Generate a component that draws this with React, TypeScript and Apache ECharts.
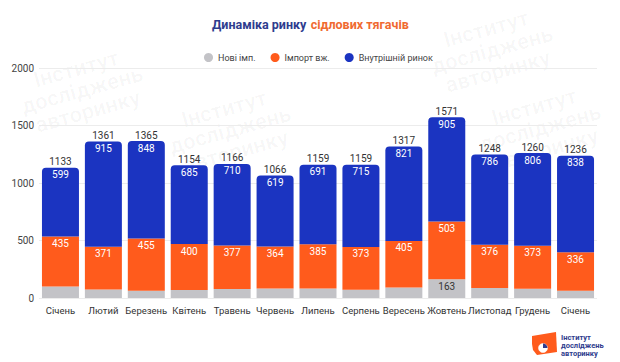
import React, { useEffect, useRef } from "react";
import * as echarts from "echarts";

const categories = ["Січень", "Лютий", "Березень", "Квітень", "Травень", "Червень", "Липень", "Серпень", "Вересень", "Жовтень", "Листопад", "Грудень", "Січень"];
const newImports = [99, 75, 62, 69, 79, 83, 83, 71, 91, 163, 86, 81, 62];
const usedImports = [435, 371, 455, 400, 377, 364, 385, 373, 405, 503, 376, 373, 336];
const domestic = [599, 915, 848, 685, 710, 619, 691, 715, 821, 905, 786, 806, 838];
const totals = [1133, 1361, 1365, 1154, 1166, 1066, 1159, 1159, 1317, 1571, 1248, 1260, 1236];
const yTicks = [0, 500, 1000, 1500, 2000];
const grayLabelShown = [false, false, false, false, false, false, false, false, false, true, false, false, false];

const GRAY = "#c3c3c7";
const ORANGE = "#ff5b1c";
const BLUE = "#1b34c1";
const FONT = "Roboto, 'Noto Sans', sans-serif";

const wmPositions = [
  [82, 90],
  [230, 130],
  [492, 50],
  [540, 128],
];

export default function App() {
  const ref = useRef<HTMLDivElement>(null);
  useEffect(() => {
    if (!ref.current) return;
    const chart = echarts.init(ref.current, null, { renderer: "svg" });
    const watermarks = wmPositions.map(([x, y]) => ({
      type: "text",
      x,
      y,
      rotation: 0.27,
      z: -10,
      silent: true,
      style: {
        text: "Інститут\nдосліджень\nавторинку",
        fill: "rgba(0,0,0,0.03)",
        font: `bold 22px ${FONT}`,
        lineHeight: 22,
        align: "center",
        verticalAlign: "middle",
      },
    }));
    chart.setOption({
      animation: false,
      textStyle: { fontFamily: FONT },
      title: {
        text: "{a|Динаміка ринку} {b|сідлових тягачів}",
        left: 207,
        top: 10,
        textStyle: {
          rich: {
            a: { fontSize: 12.5, fontWeight: "bold", color: "#2e3c8e", fontFamily: FONT },
            b: { fontSize: 12.5, fontWeight: "bold", color: "#f06a30", fontFamily: FONT },
          },
        },
      },
      legend: {
        data: ["Нові імп.", "Імпорт вж.", "Внутрішній ринок"],
        left: 199,
        top: 48,
        icon: "circle",
        itemWidth: 9,
        itemHeight: 9,
        itemGap: 15,
        textStyle: { fontSize: 9, color: "#444", fontFamily: FONT },
      },
      grid: { left: 39, right: 23, top: 68, bottom: 64, containLabel: false },
      xAxis: {
        type: "category",
        data: categories,
        axisLine: { show: false },
        axisTick: { show: false },
        axisLabel: { fontSize: 9.5, color: "#333", margin: 7, interval: 0, fontFamily: FONT },
      },
      yAxis: {
        type: "value",
        min: yTicks[0],
        max: yTicks[yTicks.length - 1],
        interval: yTicks[1] - yTicks[0],
        axisLabel: {
          fontSize: 10,
          color: "#444",
          margin: 5,
          fontFamily: FONT,
          formatter: (v: number) => String(v),
        },
        splitLine: { lineStyle: { color: "#ececec", width: 1 } },
      },
      graphic: [
        ...watermarks,
        {
          type: "polygon",
          z: 10,
          shape: { points: [[532, 336], [556, 332], [557, 352], [537, 355], [533, 350], [532, 344]] },
          style: { fill: ORANGE },
        },
        {
          type: "circle",
          z: 11,
          shape: { cx: 543, cy: 348, r: 4.5 },
          style: { fill: "#fff", stroke: "#fff", lineWidth: 0.5 },
        },
        {
          type: "sector",
          z: 12,
          shape: { cx: 543, cy: 348, r: 4.5, r0: 0, startAngle: -Math.PI / 2, endAngle: 0 },
          style: { fill: "#2e3c8e" },
        },
        {
          type: "text",
          z: 12,
          x: 561,
          y: 333,
          style: {
            text: "Інститут\nдосліджень\nавторинку",
            fill: "#2e3c8e",
            font: `bold 7.5px ${FONT}`,
            lineHeight: 8,
          },
        },
      ],
      series: [
        {
          name: "Нові імп.",
          type: "bar",
          stack: "s",
          barWidth: 37,
          itemStyle: { color: GRAY },
          data: newImports.map((v, i) => ({
            value: v,
            label: {
              show: grayLabelShown[i],
              position: "insideTop",
              distance: 2,
              color: "#333",
              fontSize: 10,
              fontFamily: FONT,
            },
          })),
        },
        {
          name: "Імпорт вж.",
          type: "bar",
          stack: "s",
          itemStyle: { color: ORANGE },
          label: { show: true, position: "insideTop", distance: 2, color: "#fff", fontSize: 10, fontFamily: FONT },
          data: usedImports,
        },
        {
          name: "Внутрішній ринок",
          type: "bar",
          stack: "s",
          itemStyle: { color: BLUE, borderRadius: [4, 4, 0, 0] },
          label: { show: true, position: "insideTop", distance: 2, color: "#fff", fontSize: 10, fontFamily: FONT },
          data: domestic,
        },
        {
          name: "Всього",
          type: "bar",
          stack: "s",
          itemStyle: { color: "transparent" },
          label: {
            show: true,
            position: "top",
            distance: 1,
            color: "#333",
            fontSize: 10,
            fontFamily: FONT,
            formatter: (p: any) => String(totals[p.dataIndex]),
          },
          data: totals.map(() => 0),
        },
      ],
    });
    return () => chart.dispose();
  }, []);
  return <div ref={ref} style={{ width: 620, height: 362, position: "absolute", left: 0, top: 0 }} />;
}
